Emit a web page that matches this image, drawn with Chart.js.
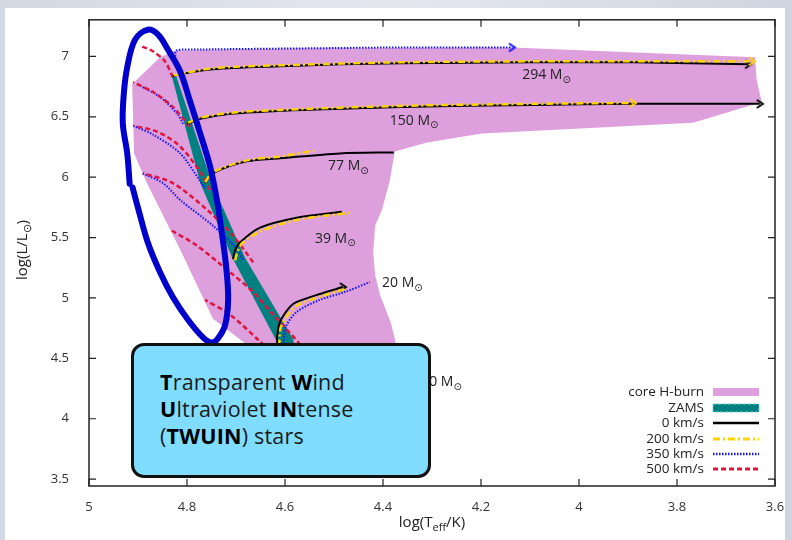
<!DOCTYPE html>
<html>
<head>
<meta charset="utf-8">
<script src="https://cdn.jsdelivr.net/npm/chart.js@4.4.1/dist/chart.umd.min.js"></script>
<style>
  html, body { margin: 0; padding: 0; }
  body { width: 792px; height: 540px; overflow: hidden; position: relative;
         background: linear-gradient(90deg, #d3d8e3 0%, #e4e7ee 50%, #cfd5e0 100%); font-family: "Open Sans", sans-serif; }
  #panel { position: absolute; left: 5px; top: 8px; width: 780px; height: 532px; background: #fff; }
  #chart { position: absolute; left: 0; top: 0; }
  #xtitle { position: absolute; left: 382px; top: 511px; width: 100px; text-align: center; font-size: 15px; color: #222; }
  #ytitle { position: absolute; left: -29px; top: 240px; width: 100px; text-align: center; font-size: 15px; color: #222;
            transform: rotate(-90deg); }
  sub { font-size: 11px; vertical-align: -4px; line-height: 0; }
  #box { position: absolute; left: 131px; top: 343px; width: 300px; height: 135px; box-sizing: border-box;
         border: 3px solid #111; border-radius: 13px; background: #80ddff;
         padding: 22px 0 0 26px; font-size: 21.5px; line-height: 27px; color: #1a1a1a; letter-spacing: 0.2px; }
  #box b { font-weight: 700; color: #000; }
</style>
</head>
<body>
<div id="panel"></div>
<canvas id="chart" width="792" height="540"></canvas>
<div id="xtitle">log(T<sub>eff</sub>/K)</div>
<div id="ytitle">log(L/L<sub>⊙</sub>)</div>
<div id="box"><b>T</b>ransparent <b>W</b>ind<br><b>U</b>ltraviolet <b>IN</b>tense<br>(<b>TWUIN</b>) stars</div>
<script>
// axis ticks
const xTicks = [5, 4.8, 4.6, 4.4, 4.2, 4, 3.8, 3.6];
const yTicks = [3.5, 4, 4.5, 5, 5.5, 6, 6.5, 7];

// core H-burning region outline [logTeff, logL]
const coreHburn = [[4.824,7.049],[4.569,7.066],[4.137,7.074],[3.641,6.992],[3.637,6.795],[3.627,6.623],
  [3.767,6.451],[4.198,6.361],[4.310,6.287],[4.376,6.213],[4.386,5.975],[4.402,5.730],[4.416,5.598],
  [4.420,5.377],[4.416,5.189],[4.406,5.025],[4.384,4.795],[4.373,4.615],[4.365,4.230],[4.590,4.230],
  [4.678,4.615],[4.747,4.828],[4.814,5.402],[4.882,5.951],[4.908,6.197],[4.912,6.770],[4.855,6.992]];

// ZAMS band outline
const zamsBand = [[4.831,6.836],[4.773,5.951],[4.708,5.336],[4.620,4.664],[4.606,4.557],
  [4.578,4.557],[4.584,4.664],[4.682,5.336],[4.749,5.951],[4.822,6.836]];

// tracks, 0 km/s
const m294_v0 = [[4.829,6.836],[4.814,6.852],[4.747,6.893],[4.610,6.918],[4.488,6.934],[4.365,6.943],[4.094,6.951],[3.890,6.951],[3.655,6.934]];
const m150_v0 = [[4.800,6.443],[4.794,6.451],[4.773,6.484],[4.712,6.525],[4.610,6.549],[4.488,6.566],[4.365,6.582],[4.094,6.598],[3.890,6.607],[3.631,6.607]];
const m77_v0  = [[4.763,5.951],[4.747,6.033],[4.678,6.131],[4.610,6.156],[4.488,6.197],[4.378,6.205]];
const m39_v0  = [[4.706,5.320],[4.702,5.393],[4.692,5.459],[4.651,5.582],[4.576,5.664],[4.484,5.713]];
const m20_v0  = [[4.616,4.598],[4.616,4.680],[4.610,4.803],[4.590,4.926],[4.576,4.967],[4.529,5.033],[4.482,5.090]];

// tracks, 200 km/s
const m294_v200 = [[4.827,6.844],[4.747,6.902],[4.610,6.926],[4.365,6.951],[4.094,6.959],[3.647,6.959]];
const m150_v200 = [[4.798,6.451],[4.773,6.492],[4.712,6.533],[4.610,6.557],[4.365,6.590],[4.094,6.607],[3.890,6.615]];
const m77_v200  = [[4.763,5.959],[4.747,6.041],[4.678,6.139],[4.610,6.172],[4.539,6.221]];
const m39_v200  = [[4.702,5.311],[4.696,5.393],[4.686,5.459],[4.647,5.557],[4.573,5.648],[4.467,5.705]];
const m20_v200  = [[4.612,4.598],[4.608,4.762],[4.586,4.902],[4.569,4.951],[4.524,5.016],[4.478,5.074]];

// tracks, 350 km/s
const m294_v350 = [[4.824,7.000],[4.822,7.049],[4.773,7.057],[4.569,7.066],[4.365,7.074],[4.137,7.074]];
const m150_v350 = [[4.808,6.443],[4.820,6.525],[4.855,6.664],[4.902,6.770]];
const m77_v350  = [[4.763,5.910],[4.773,5.967],[4.814,6.197],[4.869,6.352],[4.910,6.426]];
const m39_v350  = [[4.686,5.320],[4.698,5.402],[4.747,5.598],[4.814,5.811],[4.849,5.951],[4.892,6.033]];
const m20_v350  = [[4.604,4.598],[4.598,4.762],[4.576,4.885],[4.529,4.984],[4.478,5.049],[4.427,5.131]];

// tracks, 500 km/s
const m294_v500 = [[4.829,6.828],[4.845,6.959],[4.869,7.041],[4.892,7.082]];
const m150_v500 = [[4.794,6.418],[4.829,6.582],[4.869,6.705],[4.910,6.787]];
const m77_v500  = [[4.753,5.893],[4.767,6.008],[4.814,6.254],[4.861,6.377],[4.910,6.426]];
const m39_v500  = [[4.665,5.295],[4.706,5.516],[4.759,5.730],[4.829,5.951],[4.890,6.033]];
const m20_v500  = [[4.559,4.557],[4.569,4.615],[4.624,4.861],[4.665,5.049],[4.712,5.213],[4.780,5.434],[4.831,5.557]];
const m10_v500  = [[4.631,4.557],[4.651,4.639],[4.712,4.861],[4.763,4.984]];

// TWUIN ellipse, starting at the small notch on its left side
const twuinLoop = [[4.917,5.945],[4.922,6.197],[4.931,6.443],[4.929,6.689],[4.922,6.910],[4.906,7.139],
  [4.880,7.221],[4.859,7.180],[4.839,7.057],[4.814,6.877],[4.794,6.631],[4.773,6.361],
  [4.753,6.090],[4.739,5.811],[4.729,5.541],[4.720,5.254],[4.716,4.992],[4.722,4.779],[4.737,4.664],
  [4.749,4.631],[4.767,4.672],[4.798,4.820],[4.829,5.008],[4.855,5.213],[4.880,5.459],[4.900,5.746],
  [4.911,5.915]];

// mass labels
const massNames = ['294', '150', '77', '39', '20', '10'];
const massLabelX = [4.116, 4.386, 4.512, 4.539, 4.402, 4.322];
const massLabelY = [6.844, 6.467, 6.090, 5.492, 5.123, 4.303];

const legendNames = ['core H-burn', 'ZAMS', '0 km/s', '200 km/s', '350 km/s', '500 km/s'];

const PINK = '#dda0dd', TEAL = '#008080', BLACK = '#000', GOLD = '#ffd400', BLUE = '#1414ff', RED = '#e0143c';
const styles = {
  v0:   {color: BLACK, width: 2, dash: []},
  v200: {color: GOLD, width: 2.5, dash: [7, 3, 2, 3]},
  v350: {color: BLUE, width: 2, dash: [1.5, 1.5]},
  v500: {color: RED, width: 2.5, dash: [5, 3]}
};

function makeArrow(color) {
  const c = document.createElement('canvas');
  c.width = 12; c.height = 12;
  const g = c.getContext('2d');
  g.strokeStyle = color; g.lineWidth = 2;
  g.beginPath(); g.moveTo(3, 2); g.lineTo(9, 6); g.lineTo(3, 10); g.stroke();
  return c;
}

const pts = arr => arr.map(p => ({x: p[0], y: p[1]}));

function track(arr, st, order, arrow) {
  const n = arr.length;
  const img = arrow ? makeArrow(st.color) : null;
  return {
    data: pts(arr), borderColor: st.color, borderWidth: st.width, borderDash: st.dash,
    tension: 0.3, fill: false, order: order,
    pointRadius: ctx => (img && ctx.dataIndex === n - 1) ? 5 : 0,
    pointStyle: ctx => (img && ctx.dataIndex === n - 1) ? img : 'circle'
  };
}

const datasets = [
  {data: pts(twuinLoop), borderColor: '#0000cc', borderWidth: 6, borderCapStyle: 'round', tension: 0.35, fill: false, pointRadius: 0, order: 0},
  track(m294_v200, styles.v200, 1, true), track(m150_v200, styles.v200, 1, true), track(m77_v200, styles.v200, 1, false),
  track(m39_v200, styles.v200, 1, false), track(m20_v200, styles.v200, 1, false),
  track(m294_v0, styles.v0, 2, true), track(m150_v0, styles.v0, 2, true), track(m77_v0, styles.v0, 2, false),
  track(m39_v0, styles.v0, 2, false), track(m20_v0, styles.v0, 2, true),
  track(m294_v500, styles.v500, 3, false), track(m150_v500, styles.v500, 3, false), track(m77_v500, styles.v500, 3, false),
  track(m39_v500, styles.v500, 3, false), track(m20_v500, styles.v500, 3, false), track(m10_v500, styles.v500, 3, false),
  track(m294_v350, styles.v350, 4, true), track(m150_v350, styles.v350, 4, false), track(m77_v350, styles.v350, 4, false),
  track(m39_v350, styles.v350, 4, false), track(m20_v350, styles.v350, 4, false),
  {data: pts(zamsBand), borderColor: 'rgba(0,0,0,0)', borderWidth: 0, backgroundColor: TEAL, fill: 'shape', tension: 0, pointRadius: 0, order: 8},
  {data: pts(coreHburn), borderColor: 'rgba(0,0,0,0)', borderWidth: 0, backgroundColor: PINK, fill: 'shape', tension: 0, pointRadius: 0, order: 9}
];

const frameTicks = {
  id: 'frameTicks',
  afterDraw(chart) {
    const {ctx, chartArea: a, scales: {x, y}} = chart;
    ctx.save();
    ctx.strokeStyle = '#222'; ctx.lineWidth = 1.5;
    ctx.strokeRect(a.left, a.top, a.right - a.left, a.bottom - a.top);
    ctx.lineWidth = 1.2;
    ctx.beginPath();
    xTicks.forEach(v => {
      const px = x.getPixelForValue(v);
      ctx.moveTo(px, a.bottom); ctx.lineTo(px, a.bottom - 7);
      ctx.moveTo(px, a.top); ctx.lineTo(px, a.top + 7);
    });
    yTicks.forEach(v => {
      const py = y.getPixelForValue(v);
      ctx.moveTo(a.left, py); ctx.lineTo(a.left + 7, py);
      ctx.moveTo(a.right, py); ctx.lineTo(a.right - 7, py);
    });
    ctx.stroke();

    // legend
    const rowY = [392, 408, 423, 439, 454, 469];
    ctx.font = '13.5px "Open Sans"';
    ctx.fillStyle = '#222'; ctx.textAlign = 'right'; ctx.textBaseline = 'middle';
    legendNames.forEach((t, i) => ctx.fillText(t, 704, rowY[i]));
    const x0 = 713, x1 = 759;
    ctx.fillStyle = PINK; ctx.fillRect(x0, rowY[0] - 4, x1 - x0, 8);
    ctx.fillStyle = TEAL; ctx.fillRect(x0, rowY[1] - 4, x1 - x0, 8);
    ctx.setLineDash([3, 2]); ctx.strokeStyle = '#6fd0c8'; ctx.lineWidth = 1;
    ctx.strokeRect(x0, rowY[1] - 4, x1 - x0, 8);
    [styles.v0, styles.v200, styles.v350, styles.v500].forEach((st, i) => {
      ctx.setLineDash(st.dash); ctx.strokeStyle = st.color; ctx.lineWidth = st.width + 0.5;
      ctx.beginPath(); ctx.moveTo(x0, rowY[i + 2]); ctx.lineTo(x1, rowY[i + 2]); ctx.stroke();
    });
    ctx.restore();
  },
  afterDatasetsDraw(chart) {
    const {ctx, scales: {x, y}} = chart;
    ctx.save();
    ctx.fillStyle = '#222'; ctx.textAlign = 'left'; ctx.textBaseline = 'middle';
    massNames.forEach((m, i) => {
      const px = x.getPixelForValue(massLabelX[i]), py = y.getPixelForValue(massLabelY[i]);
      ctx.font = '14px "Open Sans"';
      const s = m + ' M';
      ctx.fillText(s, px, py);
      const w = ctx.measureText(s).width;
      ctx.font = '10px "DejaVu Sans"';
      ctx.fillText('⊙', px + w, py + 5);
    });
    ctx.restore();
  }
};

const tickText = v => String(Number(v.toFixed(1)));

new Chart(document.getElementById('chart'), {
  type: 'line',
  data: {datasets: datasets},
  options: {
    responsive: false, animation: false, devicePixelRatio: 1,
    layout: {padding: {left: 0, right: 17, top: 15, bottom: 0}},
    plugins: {legend: {display: false}, tooltip: {enabled: false}},
    scales: {
      x: {
        type: 'linear', reverse: true, min: 3.6, max: 5,
        afterBuildTicks: s => { s.ticks = xTicks.map(v => ({value: v})); },
        afterFit: s => { s.height = 54; },
        grid: {display: false}, border: {display: false},
        ticks: {font: {family: 'Open Sans', size: 13}, color: '#333', padding: 5, maxRotation: 0, callback: tickText}
      },
      y: {
        type: 'linear', min: 3.443, max: 7.303,
        afterBuildTicks: s => { s.ticks = yTicks.map(v => ({value: v})); },
        afterFit: s => { s.width = 89; },
        grid: {display: false}, border: {display: false},
        ticks: {font: {family: 'Open Sans', size: 13}, color: '#333', padding: 12, callback: tickText}
      }
    }
  },
  plugins: [frameTicks]
});
</script>
</body>
</html>
